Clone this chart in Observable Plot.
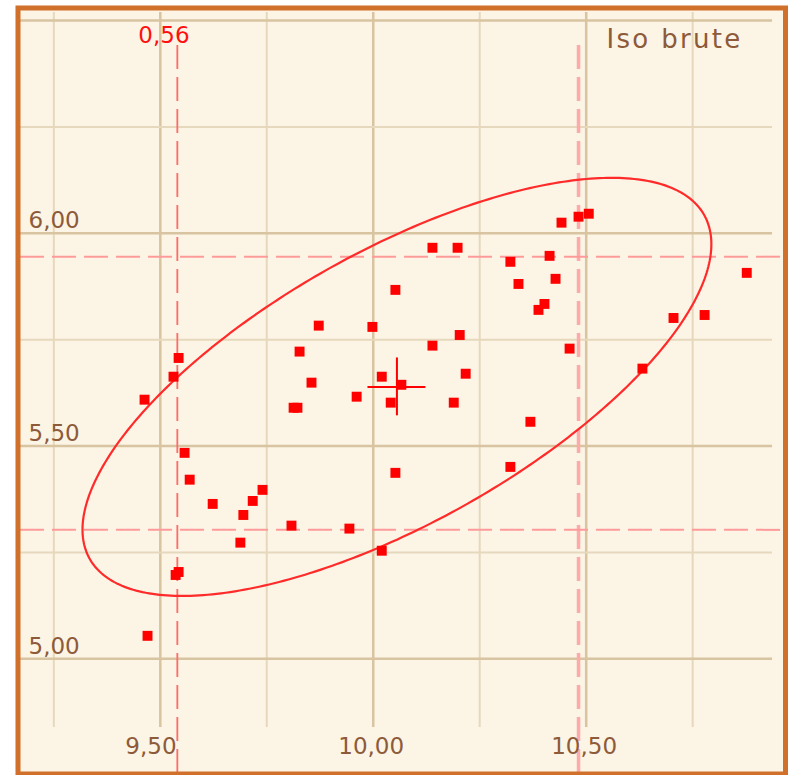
<!DOCTYPE html>
<html><head><meta charset="utf-8">
<script src="https://cdn.jsdelivr.net/npm/d3@7"></script>
<script src="https://cdn.jsdelivr.net/npm/@observablehq/plot@0.6"></script>
<style>
  html, body { margin: 0; padding: 0; background: #ffffff; }
  svg { display: block; }
</style>
</head><body><div id="chart"></div>
<script>
// ---- data ----
const pointX = [9.463, 9.531, 9.543, 9.557, 9.569, 9.623, 9.695, 9.717, 9.740, 9.688,
  9.536, 9.543, 9.470, 9.808, 9.813, 9.822, 9.827, 9.855, 9.872, 9.944,
  9.961, 9.998, 10.020, 10.041, 10.052, 10.052, 10.020, 10.066, 10.139, 10.139,
  10.198, 10.203, 10.217, 10.189, 10.322, 10.341, 10.369, 10.322, 10.388, 10.402,
  10.414, 10.428, 10.442, 10.461, 10.482, 10.506, 10.632, 10.705, 10.778, 10.877];
const pointY = [5.609, 5.663, 5.707, 5.484, 5.421, 5.364, 5.338, 5.371, 5.397, 5.273,
  5.197, 5.204, 5.054, 5.313, 5.590, 5.590, 5.722, 5.649, 5.783, 5.306,
  5.616, 5.780, 5.663, 5.602, 5.867, 5.437, 5.254, 5.644, 5.966, 5.736,
  5.966, 5.761, 5.670, 5.602, 5.933, 5.881, 5.557, 5.451, 5.820, 5.834,
  5.947, 5.893, 6.025, 5.729, 6.039, 6.046, 5.682, 5.801, 5.808, 5.907];

const xTickValues = [9.5, 10.0, 10.5];
const xTickLabels = ["9,50", "10,00", "10,50"];
const yTickValues = [5.0, 5.5, 6.0];
const yTickLabels = ["5,00", "5,50", "6,00"];
const xGridValues = [9.25, 9.5, 9.75, 10.0, 10.25, 10.5, 10.75];
const yGridValues = [5.0, 5.25, 5.5, 5.75, 6.0, 6.25, 6.5];
const refLineX = [9.540, 10.482];
const refLineY = [5.303, 5.945];
const topValueLabel = "0,56";
const titleText = "Iso brute";
const ellipseK = 2;       // ellipse = 2 standard deviations
const crossArm = 0.068;   // half-length of the mean cross

// ---- derived ----
const points = pointX.map((x, i) => ({x, y: pointY[i]}));
const n = points.length;
const mx = d3.mean(pointX), my = d3.mean(pointY);
const sx = Math.sqrt(d3.sum(pointX, v => (v - mx) ** 2) / n);
const sy = Math.sqrt(d3.sum(pointY, v => (v - my) ** 2) / n);
const cxy = d3.sum(points, p => (p.x - mx) * (p.y - my)) / n;
const r = cxy / (sx * sy);
const ellipse = d3.range(0, 361).map(i => {
  const t = i / 360 * 2 * Math.PI;
  const u = Math.cos(t), v = Math.sin(t);
  return {x: mx + ellipseK * sx * u, y: my + ellipseK * sy * (r * u + Math.sqrt(1 - r * r) * v)};
});

const xTicks = xTickValues.map((v, i) => ({v, label: xTickLabels[i]}));
const yTicks = yTickValues.map((v, i) => ({v, label: yTickLabels[i]}));
const isMajor = v => Math.abs(v * 2 - Math.round(v * 2)) < 1e-6;

const brown = "#8d5a3a";
const font = "DejaVu Sans";

const chart = Plot.plot({
  width: 790,
  height: 775,
  marginLeft: 17.5,
  marginTop: 7.5,
  marginRight: 5,
  marginBottom: 1.5,
  style: {background: "#ffffff", fontFamily: font},
  x: {domain: [9.5, 10.5], range: [159.8, 585.7], axis: null},
  y: {domain: [5, 6], range: [658.3, 232.8], axis: null},
  marks: [
    Plot.frame({fill: "#fcf4e4", stroke: null}),
    // grid
    Plot.ruleX(xGridValues.filter(v => !isMajor(v)), {x: d => d, stroke: "#e6d8bd", strokeWidth: 2, insetTop: 4.5, insetBottom: 46.5}),
    Plot.ruleX(xGridValues.filter(isMajor), {x: d => d, stroke: "#d8c4a0", strokeWidth: 2.5, insetTop: 4.5, insetBottom: 46.5}),
    Plot.ruleY(yGridValues.filter(v => !isMajor(v)), {y: d => d, stroke: "#e6d8bd", strokeWidth: 2, insetLeft: 2.5, insetRight: 13}),
    Plot.ruleY(yGridValues.filter(isMajor), {y: d => d, stroke: "#d8c4a0", strokeWidth: 2.5, insetLeft: 2.5, insetRight: 13}),
    // reference dashed lines
    Plot.ruleX([refLineX[0]], {x: d => d, stroke: "#ff6a6a", strokeWidth: 1.8, strokeDasharray: "24,8", insetTop: 37.5}),
    Plot.ruleX([refLineX[1]], {x: d => d, stroke: "#ffaaaa", strokeWidth: 3.5, strokeDasharray: "24,8", insetTop: 37.5}),
    Plot.ruleY(refLineY, {y: d => d, stroke: "#ff9a9a", strokeWidth: 2, strokeDasharray: "24,8", insetLeft: 2.5, insetRight: 2}),
    // ellipse
    Plot.line(ellipse, {x: "x", y: "y", stroke: "#ff2a2a", strokeWidth: 2.2}),
    // points
    Plot.dot(points, {x: "x", y: "y", symbol: "square", r: 5.6, fill: "#ff0000", stroke: null}),
    // mean cross
    Plot.ruleX([{x: mx, y: my}], {x: "x", y1: d => d.y - crossArm, y2: d => d.y + crossArm, stroke: "#ff0000", strokeWidth: 2}),
    Plot.ruleY([{x: mx, y: my}], {y: "y", x1: d => d.x - crossArm, x2: d => d.x + crossArm, stroke: "#ff0000", strokeWidth: 2}),
    // tick labels
    Plot.text(xTicks, {x: "v", text: "label", frameAnchor: "bottom", lineAnchor: "middle", dy: -27, dx: -35, textAnchor: "start", fill: brown, fontSize: 23, fontFamily: font}),
    Plot.text(yTicks, {y: "v", text: "label", frameAnchor: "left", lineAnchor: "middle", dx: 10.5, dy: -12.5, textAnchor: "start", fill: brown, fontSize: 23, fontFamily: font}),
    // value label above the left reference line
    Plot.text([topValueLabel], {x: () => refLineX[0], text: d => d, frameAnchor: "top", lineAnchor: "middle", dy: 27.5, dx: -39, textAnchor: "start", fill: "#ff1010", fontSize: 23, fontFamily: font}),
    // title
    Plot.text([titleText], {text: d => d, frameAnchor: "top-right", lineAnchor: "middle", dx: -43, dy: 32, textAnchor: "end", fill: brown, fontSize: 26, fontFamily: font}),
    Plot.frame({stroke: "#d0702a", strokeWidth: 5, fill: null})
  ]
});

d3.select(chart).selectAll("text").filter(function() { return this.textContent === titleText; })
  .attr("letter-spacing", "2.3px");

document.getElementById("chart").appendChild(chart);
</script></body></html>
